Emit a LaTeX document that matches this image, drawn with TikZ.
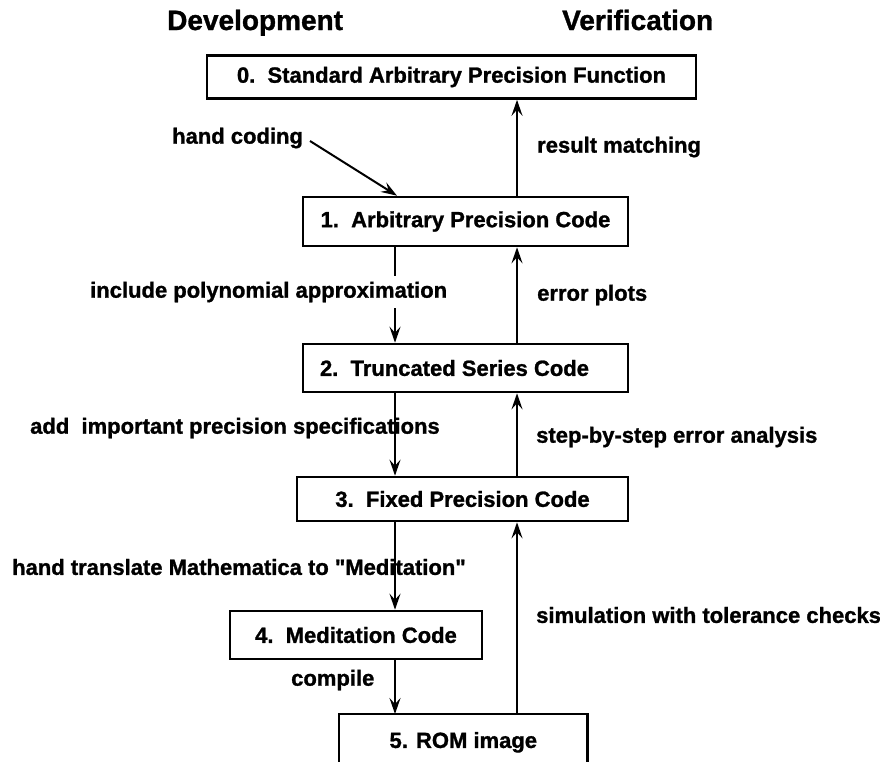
\documentclass[tikz,border=0pt]{standalone}
\usepackage{fontspec}
\setmainfont{Liberation Sans}[Ligatures=TeXOff, BoldFeatures={FakeBold=1.2}]
\usetikzlibrary{arrows.meta}
\begin{document}
\begin{tikzpicture}[x=1pt,y=-1pt,
  box/.style={draw, line width=2.6pt, rectangle, inner sep=0pt, font=\fontsize{22}{26}\selectfont\bfseries},
  lbl/.style={anchor=west, inner sep=0pt, font=\fontsize{22}{26}\selectfont\bfseries},
  ttl/.style={anchor=base west, inner sep=0pt, font=\fontsize{28}{32}\selectfont\bfseries},
  arr/.style={line width=2pt, -{Stealth[length=16pt,width=11pt,inset=6pt]}},
]
\useasboundingbox (0,0) rectangle (880,761);
\clip (0,0) rectangle (880,761);

% titles
\node[ttl] (tdev) at (167,30) {Development};
\node[ttl] (tver) at (562,30) {Verification};

% boxes
\node[box, minimum width=489, minimum height=43] (b0) at (451.5,77) {0.\ \ Standard Arbitrary Precision Function};
\node[box, minimum width=325, minimum height=49] (b1) at (465.5,221.5) {1.\ \ Arbitrary Precision Code};
\node[box, minimum width=325, minimum height=48] (b2) at (465.5,368) {\makebox[291pt][l]{2.\ \ Truncated Series Code}};
\node[box, minimum width=331, minimum height=44] (b3) at (462.5,499) {3.\ \ Fixed Precision Code};
\node[box, minimum width=252, minimum height=48] (b4) at (356,635) {4.\ \ Meditation Code};
\node[box, draw=none, minimum width=246, minimum height=54, anchor=north west] (b5) at (339,714) {5. ROM image};
\coordinate (lowy) at (0,800);
\draw[line width=2.6pt, line join=miter] (b5.north west |- lowy) -- (b5.north west) -- (b5.north east) -- (b5.north east |- lowy);

% helper coordinates for the two arrow columns
\coordinate (dx) at (395,0);
\coordinate (vx) at (517,0);
\coordinate (hcs) at (310,141);
\coordinate (hce) at (397,0);

% development arrows
\draw[arr] (hcs) -- (b1.north -| hce);
\draw[arr] (b1.south -| dx) -- (b2.north -| dx);
\draw[arr] (b2.south -| dx) -- (b3.north -| dx);
\draw[arr] (b3.south -| dx) -- (b4.north -| dx);
\draw[arr] (b4.south -| dx) -- (b5.north -| dx);

% verification arrows
\draw[arr] (b1.north -| vx) -- (b0.south -| vx);
\draw[arr] (b2.north -| vx) -- (b1.south -| vx);
\draw[arr] (b3.north -| vx) -- (b2.south -| vx);
\draw[arr] (b5.north -| vx) -- (b3.south -| vx);

% labels
\node[lbl] (lhc) at (172,138) {hand coding};
\node[lbl] (lrm) at (537,147) {result matching};
\node[lbl, fill=white, inner xsep=0pt, inner ysep=6pt] (lip) at (90,292) {include polynomial approximation};
\node[lbl] (lep) at (537,295) {error plots};
\node[lbl] (lad) at (30,428) {add\ \ important precision specifications};
\node[lbl] (lss) at (536,437) {step-by-step error analysis};
\node[lbl] (lht) at (12,567) {hand translate Mathematica to "Meditation"};
\node[lbl] (lsim) at (536,615) {simulation with tolerance checks};
\node[lbl] (lcomp) at (291,680) {compile};
\end{tikzpicture}
\end{document}
